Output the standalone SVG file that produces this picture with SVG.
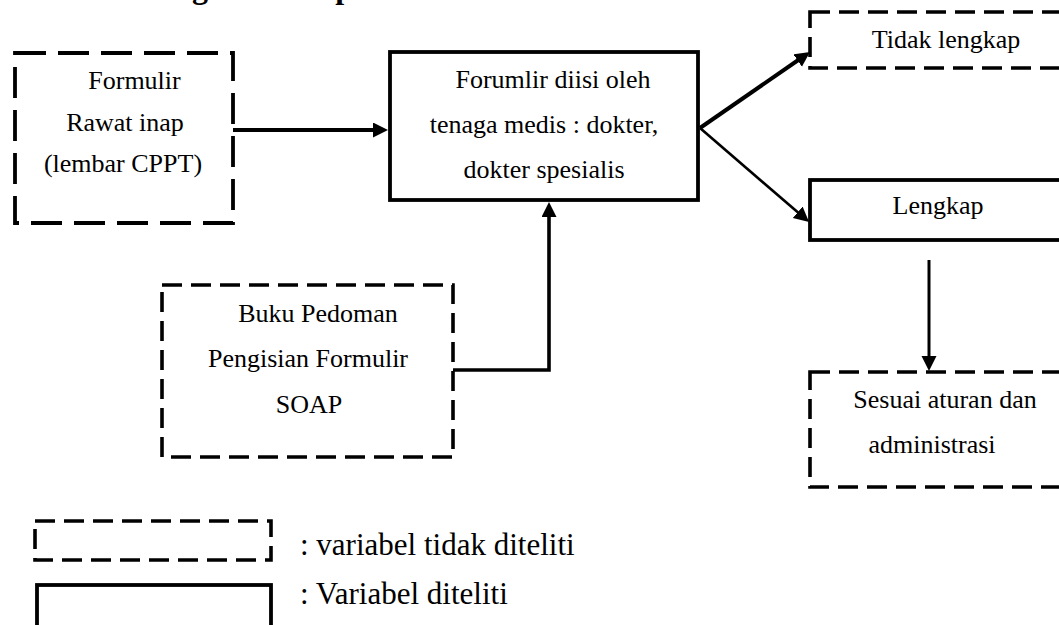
<svg xmlns="http://www.w3.org/2000/svg" width="1059" height="625" viewBox="0 0 1059 625">
  <style>
    .t { font-family: "Liberation Serif", "Times New Roman", serif; font-size: 26px; fill: #000; text-anchor: middle; }
    .lg { font-family: "Liberation Serif", "Times New Roman", serif; font-size: 31px; fill: #000; }
    .title { font-family: "Liberation Serif", "Times New Roman", serif; font-size: 32px; font-weight: bold; fill: #000; }
    .solid { fill: #fff; stroke: #000; stroke-width: 3.8; }
    .dash { fill: #fff; stroke: #000; stroke-width: 3.6; stroke-dasharray: 20 9; }
    .dashL { fill: #fff; stroke: #000; stroke-width: 3.8; stroke-dasharray: 31 12; }
    .conn { fill: none; stroke: #000; }
  </style>
  <defs>
    <marker id="ah" markerUnits="userSpaceOnUse" markerWidth="16" markerHeight="16" refX="7" refY="7.5" orient="auto">
      <path d="M0,0 L15,7.5 L0,15 z" fill="#000"/>
    </marker>
  </defs>

  <text class="title" x="105" y="-2">Kerangka Konsep</text>

  <g id="connectors">
    <line class="conn" stroke-width="3.8" x1="233" y1="130" x2="380" y2="130" marker-end="url(#ah)"/>
    <path class="conn" stroke-width="3.6" d="M453,370 H549 V210" marker-end="url(#ah)"/>
    <line class="conn" stroke-width="4" x1="700" y1="128" x2="803.4" y2="56.5" marker-end="url(#ah)"/>
    <line class="conn" stroke-width="2.6" x1="700" y1="128" x2="803" y2="216.8" marker-end="url(#ah)"/>
    <line class="conn" stroke-width="3" x1="929" y1="260" x2="929" y2="363" marker-end="url(#ah)"/>
  </g>

  <g id="node-formulir">
    <rect class="dashL" x="15" y="53" width="218" height="170"/>
    <text class="t" x="134.5" y="89">Formulir</text>
    <text class="t" x="125" y="131">Rawat inap</text>
    <text class="t" x="123" y="172">(lembar CPPT)</text>
  </g>

  <g id="node-diisi">
    <rect class="solid" x="390" y="52" width="308" height="148"/>
    <text class="t" x="553" y="88">Forumlir diisi oleh</text>
    <text class="t" x="544" y="133">tenaga medis : dokter,</text>
    <text class="t" x="544" y="178">dokter spesialis</text>
  </g>

  <g id="node-soap">
    <rect class="dash" x="162" y="285" width="291" height="172"/>
    <text class="t" x="318" y="322">Buku Pedoman</text>
    <text class="t" x="308" y="367">Pengisian Formulir</text>
    <text class="t" x="309" y="413">SOAP</text>
  </g>

  <g id="node-tidak-lengkap">
    <rect class="dash" x="810" y="12" width="300" height="56"/>
    <text class="t" x="946" y="48">Tidak lengkap</text>
  </g>

  <g id="node-lengkap">
    <rect class="solid" x="810" y="180" width="300" height="60"/>
    <text class="t" x="938" y="214">Lengkap</text>
  </g>

  <g id="node-sesuai">
    <rect class="dash" x="810" y="372" width="300" height="115"/>
    <text class="t" x="945" y="408">Sesuai aturan dan</text>
    <text class="t" x="932" y="453">administrasi</text>
  </g>

  <g id="legend">
    <rect class="dash" x="35" y="521" width="236" height="39"/>
    <text class="lg" x="300" y="555">: variabel tidak diteliti</text>
    <rect class="solid" x="37" y="585" width="234" height="60"/>
    <text class="lg" x="300" y="604">: Variabel diteliti</text>
  </g>
</svg>
